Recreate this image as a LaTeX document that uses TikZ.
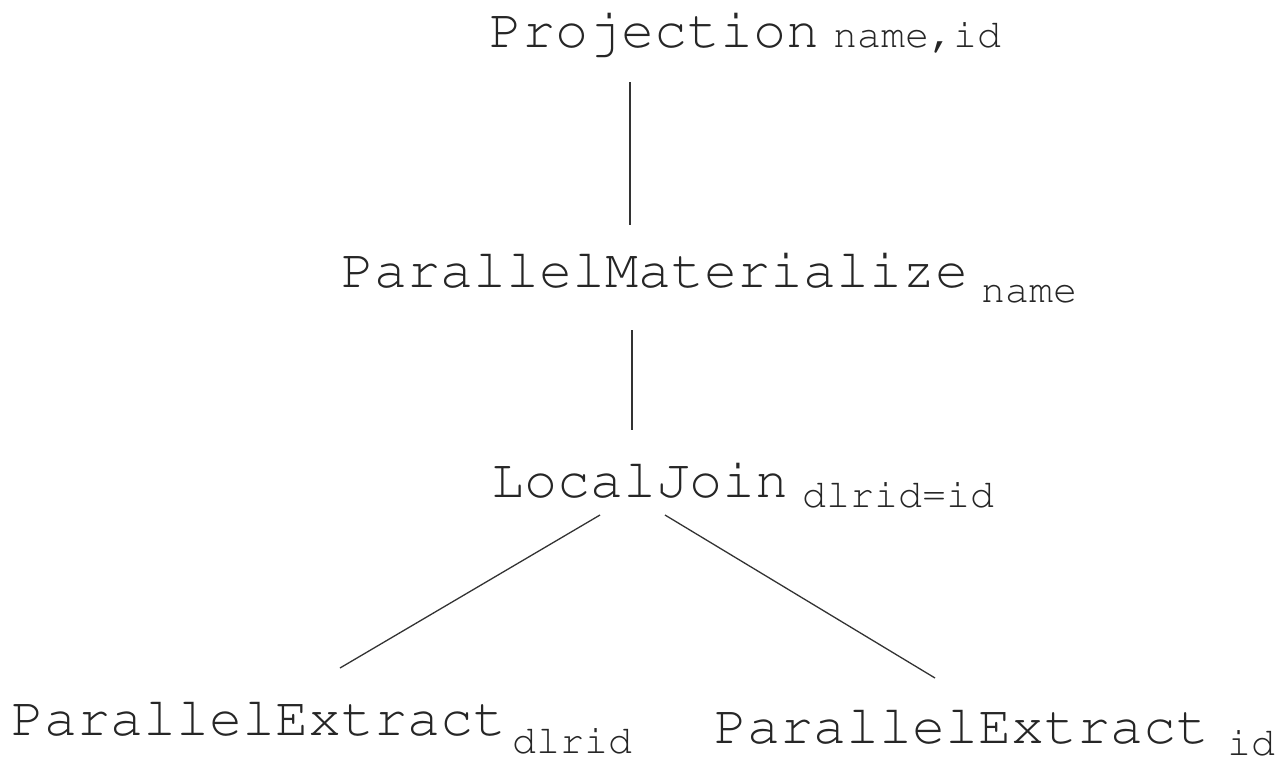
\documentclass[tikz,border=0pt]{standalone}
\usepackage[T1]{fontenc}
\usetikzlibrary{calc}
\newcommand{\opmain}{\fontfamily{pcr}\fontsize{55}{60}\selectfont}
\newcommand{\opsub}{\fontfamily{pcr}\fontsize{40}{44}\selectfont}
% 算子名加下标: #1 名字, #2 下标, #3 间距, #4 下沉
\newcommand{\opname}[4]{\opmain #1\kern#3pt\raisebox{-#4pt}{\opsub #2}}
\tikzset{
  opnode/.style={anchor=base west, inner sep=0pt, text=black!85},
  opline/.style={line width=1.3pt, black!80}
}
\begin{document}
\begin{tikzpicture}[x=1pt, y=1pt]
            \useasboundingbox (0,0) rectangle (1281,-761);
            % 算子节点
            \node[opnode] (proj) at (489,-47) {\opname{Projection}{name,id}{14}{0}};
            \node[opnode] (mat) at (341,-287) {\opname{ParallelMaterialize}{name}{13}{15}};
            \node[opnode] (join) at (491,-497) {\opname{LocalJoin}{dlrid=id}{14}{10}};
            \node[opnode] (extl) at (11,-735) {\opname{ParallelExtract}{dlrid}{6}{18}};
            \node[opnode] (extr) at (714,-743) {\opname{ParallelExtract}{id}{18}{12}};
            % 连线
            \draw[opline] ($(proj.base west)+(141,-35)$) -- ($(mat.base west)+(289,62)$);
            \draw[opline] ($(mat.base west)+(291,-43)$) -- ($(join.base west)+(141,67)$);
            \draw[opline] ($(join.base west)+(109,-18)$) -- ($(extl.base west)+(329,67)$);
            \draw[opline] ($(join.base west)+(174,-18)$) -- ($(extr.base west)+(221,65)$);
        \end{tikzpicture}
\end{document}
